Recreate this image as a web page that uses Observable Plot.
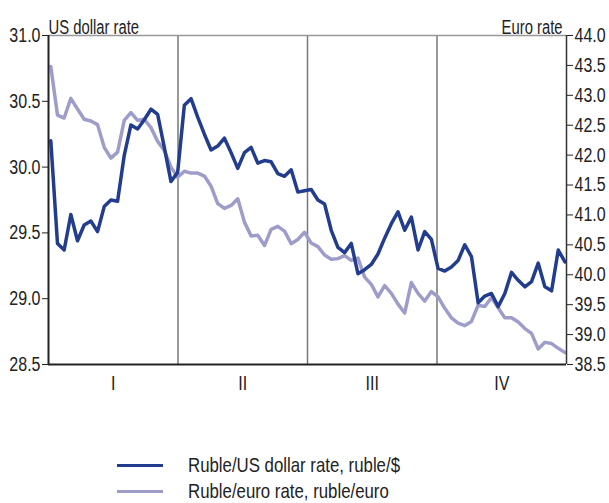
<!DOCTYPE html>
<html><head><meta charset="utf-8">
<script src="https://cdn.jsdelivr.net/npm/d3@7"></script>
<script src="https://cdn.jsdelivr.net/npm/@observablehq/plot@0.6"></script>
<style>
body{margin:0;background:#fff;font-family:"Liberation Sans",Arial,sans-serif;color:#222;}
#legend{margin-top:51px;padding-left:117px;font-size:21px;}
#legend .row{height:26px;line-height:26px;white-space:nowrap;}
#legend .sw{display:inline-block;width:46px;height:3px;vertical-align:middle;margin-right:25px;}
#legend .lb{display:inline-block;vertical-align:middle;transform:scaleX(0.8);transform-origin:left center;}
</style></head><body>
<div id="chart"></div>
<div id="legend"></div>
<script>
const dollarRate = [30.20,29.42,29.37,29.64,29.44,29.56,29.59,29.51,29.70,29.75,29.74,30.09,30.32,30.29,30.36,30.44,30.40,30.15,29.89,29.96,
30.47,30.52,30.38,30.25,30.13,30.16,30.22,30.11,29.99,30.11,30.15,30.03,30.05,30.04,29.95,29.93,29.98,29.81,29.82,29.83,
29.75,29.72,29.52,29.39,29.35,29.42,29.19,29.22,29.26,29.34,29.46,29.57,29.66,29.52,29.62,29.37,29.51,29.45,29.23,29.21,
29.24,29.29,29.41,29.32,28.97,29.02,29.04,28.94,29.04,29.20,29.14,29.09,29.13,29.27,29.09,29.06,29.37,29.28];
const euroRate = [43.48,42.67,42.62,42.95,42.77,42.60,42.57,42.51,42.13,41.95,42.05,42.58,42.71,42.58,42.60,42.46,42.23,42.08,41.80,41.63,
41.73,41.70,41.70,41.65,41.48,41.19,41.11,41.16,41.27,40.88,40.65,40.66,40.49,40.76,40.81,40.73,40.52,40.59,40.71,40.53,
40.47,40.33,40.26,40.27,40.32,40.24,40.28,39.96,39.84,39.63,39.82,39.69,39.51,39.36,39.87,39.69,39.56,39.72,39.63,39.44,
39.28,39.19,39.15,39.22,39.49,39.47,39.62,39.45,39.28,39.28,39.21,39.10,39.02,38.76,38.87,38.85,38.77,38.70];
const quarterLabels = ["I","II","III","IV"];
const dollarTicks = [28.5,29.0,29.5,30.0,30.5,31.0];
const euroTicks = [38.5,39.0,39.5,40.0,40.5,41.0,41.5,42.0,42.5,43.0,43.5,44.0];
const axisTitles = ["US dollar rate","Euro rate"];
const seriesNames = ["Ruble/US dollar rate, ruble/$","Ruble/euro rate, ruble/euro"];
const seriesColors = ["#223d8e","#9e9dca"];

// observations per quarter and offset of first observation within the quarter
const obsPerQuarter = 19.395, firstOffset = 0.345;
const pos = i => (i + firstOffset) / obsPerQuarter;

// map euro axis onto the dollar axis (dual axis)
const [d0,d1] = [dollarTicks[0], dollarTicks[dollarTicks.length-1]];
const [e0,e1] = [euroTicks[0], euroTicks[euroTicks.length-1]];
const toLeft = e => d0 + (e - e0) * (d1 - d0) / (e1 - e0);
const fromLeft = d => e0 + (d - d0) * (e1 - e0) / (d1 - d0);

const dollarData = dollarRate.map((v,i) => ({x: pos(i), y: v}));
const euroData = euroRate.map((v,i) => ({x: pos(i), y: toLeft(v)}));
const quarterCenters = quarterLabels.map((q,i) => i + 0.5);
const quarterBounds = quarterLabels.slice(1).map((q,i) => i + 1);

const chart = Plot.plot({
  width: 609, height: 400,
  marginLeft: 48, marginRight: 43, marginTop: 35, marginBottom: 36,
  x: {domain: [0, quarterLabels.length], axis: null},
  y: {domain: [d0, d1], axis: null},
  style: {fontFamily: '"Liberation Sans", Arial, sans-serif', fontSize: "20px", color: "#222", background: "#fff", overflow: "visible"},
  marks: [
    Plot.ruleX(quarterBounds, {stroke: "#777", strokeWidth: 1.5}),
    Plot.ruleY([d1], {stroke: "#999", strokeWidth: 1.5}),
    Plot.line(euroData, {x: "x", y: "y", stroke: seriesColors[1], strokeWidth: 3.5}),
    Plot.line(dollarData, {x: "x", y: "y", stroke: seriesColors[0], strokeWidth: 3.5}),
    Plot.ruleX([0], {stroke: "#222", strokeWidth: 2}),
    Plot.ruleX([quarterLabels.length], {stroke: "#333", strokeWidth: 1.5}),
    Plot.ruleY([d0], {stroke: "#222", strokeWidth: 2}),
    Plot.axisY(dollarTicks, {anchor: "left", label: null, tickSize: 6, tickPadding: 2, tickFormat: d => d.toFixed(1), fontSize: 20}),
    Plot.axisY(euroTicks.map(toLeft), {anchor: "right", label: null, tickSize: 6, tickPadding: 2, tickFormat: d => fromLeft(d).toFixed(1), fontSize: 20}),
    Plot.axisX(quarterCenters, {anchor: "bottom", label: null, tickSize: 0, tickPadding: 11, tickFormat: d => quarterLabels[Math.floor(d)], fontSize: 20}),
    Plot.text([axisTitles[0]], {frameAnchor: "top-left", dy: -16, textAnchor: "start", fontSize: 20}),
    Plot.text([axisTitles[1]], {frameAnchor: "top-right", dy: -16, dx: -4, textAnchor: "end", fontSize: 20})
  ]
});
document.getElementById("chart").appendChild(chart);
// condense all text horizontally (the reference uses a condensed face)
chart.querySelectorAll("text").forEach(t => {
  const len = t.getComputedTextLength();
  const k = axisTitles.includes(t.textContent) ? 0.74 : 0.8;
  if (len > 0) {
    t.setAttribute("textLength", (len * k).toFixed(2));
    t.setAttribute("lengthAdjust", "spacingAndGlyphs");
  }
});

const legend = document.getElementById("legend");
seriesNames.forEach((n,i) => {
  const row = document.createElement("div");
  row.className = "row";
  const sw = document.createElement("span");
  sw.className = "sw";
  sw.style.background = seriesColors[i];
  const lb = document.createElement("span");
  lb.className = "lb";
  lb.textContent = n;
  row.appendChild(sw);
  row.appendChild(lb);
  legend.appendChild(row);
});
</script>
</body></html>
